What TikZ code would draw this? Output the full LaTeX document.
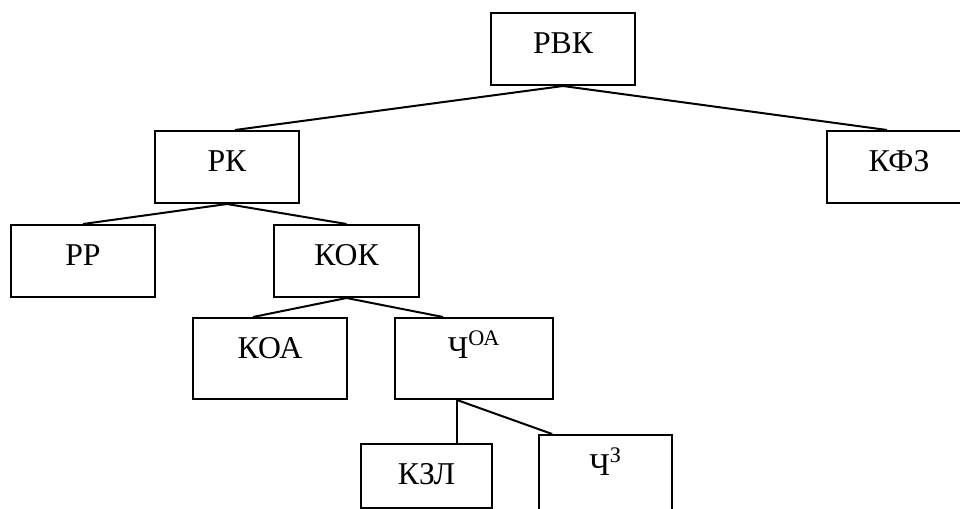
\documentclass[tikz,border=0pt]{standalone}
\usepackage{fontspec}
\setmainfont{Liberation Serif}

\begin{document}
\begin{tikzpicture}[x=0.75pt, y=-0.75pt,
        box/.style 2 args={draw, line width=1.5pt, anchor=north, inner xsep=0pt, inner ysep=14.25pt,
            text height=15.75pt, text depth=#2, minimum width=#1, font=\fontsize{23.8}{28}\selectfont},
        link/.style={line width=1.5pt}]
        \clip (0,0) rectangle (960,508);
        \node[box={108pt}{9.75pt}] (RVK) at (563,12) {РВК};
        \node[box={108pt}{9.75pt}] (RK) at (227,130) {РК};
        \node[box={108pt}{9.75pt}] (KFZ) at (899,130) {КФЗ};
        \node[box={108pt}{9.75pt}] (RR) at (83,224) {РР};
        \node[box={108.75pt}{9.75pt}] (KOK) at (346.5,224) {КОК};
        \node[box={115.5pt}{16.5pt}] (KOA) at (270,317) {КОА};
        \node[box={118.5pt}{16.5pt}] (ChOA) at (474,317) {Ч\textsuperscript{ОА}};
        \node[box={98.25pt}{3.75pt}] (KZL) at (426.5,443) {КЗЛ};
        \node[box={99.75pt}{23.25pt}] (ChZ) at (605.5,434) {Ч\textsuperscript{З}};
        \coordinate (ChOAfoot) at ([xshift=-12.75pt]ChOA.south);

        \draw[link] (RVK.south) -- ([xshift=6pt]RK.north);
        \draw[link] (RVK.south) -- ([xshift=-9pt]KFZ.north);
        \draw[link] (RK.south) -- (RR.north);
        \draw[link] (RK.south) -- (KOK.north);
        \draw[link] (KOK.south) -- ([xshift=-12.75pt]KOA.north);
        \draw[link] (KOK.south) -- ([xshift=-23.25pt]ChOA.north);
        \draw[link] (ChOAfoot) -- (ChOAfoot |- KZL.north);
        \draw[link] (ChOAfoot) -- ([xshift=-40pt]ChZ.north);
    \end{tikzpicture}
\end{document}
